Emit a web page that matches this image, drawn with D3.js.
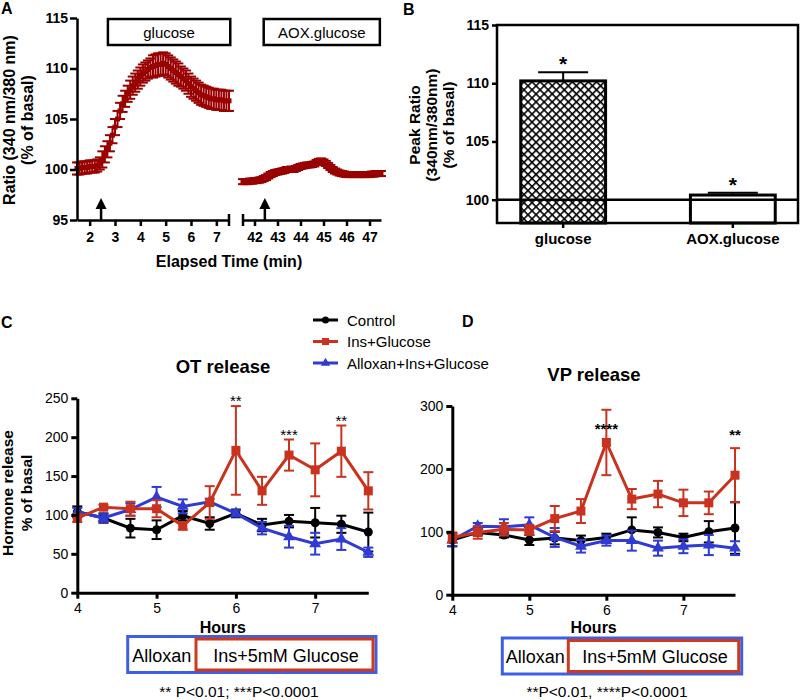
<!DOCTYPE html>
<html>
<head>
<meta charset="utf-8">
<script src="https://cdn.jsdelivr.net/npm/d3@7"></script>
<style>
  body { margin: 0; background: #fff; }
  text { font-family: "Liberation Sans", Arial, Helvetica, sans-serif; }
</style>
</head>
<body>
<div id="chart"></div>
<script>
// ---- data ----

// A: calcium ratio traces, sampled every 0.1 min
var timesA1 = d3.range(61).map(function (i) { return 1.5 + i / 10; });
var ratioA1 = [100.1, 100.1, 100.2, 100.2, 100.2, 100.3, 100.3, 100.3, 100.4, 100.6,
  101.0, 101.5, 102.0, 102.6, 103.4, 104.2, 105.0, 105.8, 106.5, 107.0,
  107.5, 107.9, 108.3, 108.6, 108.9, 109.2, 109.5, 109.7, 109.9, 110.1,
  110.2, 110.3, 110.4, 110.4, 110.5, 110.4, 110.2, 110.0, 109.8, 109.6,
  109.4, 109.2, 109.0, 108.8, 108.5, 108.2, 108.0, 107.8, 107.6, 107.4,
  107.3, 107.2, 107.1, 107.0, 107.0, 106.9, 106.9, 106.9, 106.8, 106.8, 106.8];
var semA1 = [0.6, 0.6, 0.6, 0.6, 0.6, 0.6, 0.6, 0.6, 0.6, 0.6,
  0.8, 0.8, 0.8, 0.8, 0.8, 0.8, 0.8, 0.8, 0.8, 0.8,
  0.8, 0.9, 0.9, 0.9, 0.9, 0.9, 0.9, 0.9, 0.9, 0.9,
  1.1, 1.1, 1.1, 1.1, 1.1, 1.1, 1.1, 1.1, 1.1, 1.1,
  1.1, 1.0, 1.0, 1.0, 1.0, 1.0, 1.0, 1.0, 1.0, 1.0,
  1.0, 1.0, 1.0, 1.0, 1.0, 1.0, 1.0, 1.0, 1.0, 1.0, 1.0];
var timesA2 = d3.range(61).map(function (i) { return 41.5 + i / 10; });
var ratioA2 = [98.8, 98.8, 98.8, 98.85, 98.85, 98.9, 98.9, 98.95, 99.0, 99.1,
  99.2, 99.35, 99.5, 99.6, 99.7, 99.75, 99.8, 99.85, 99.9, 100.0,
  100.0, 100.05, 100.0, 100.1, 100.2, 100.3, 100.35, 100.4, 100.45, 100.45,
  100.5, 100.55, 100.7, 100.8, 100.85, 100.75, 100.6, 100.4, 100.2, 100.0,
  99.85, 99.75, 99.65, 99.6, 99.55, 99.5, 99.5, 99.5, 99.5, 99.5,
  99.5, 99.5, 99.5, 99.5, 99.5, 99.5, 99.55, 99.55, 99.6, 99.6, 99.6];
var semA2 = 0.25;
var arrowA1 = 2.45, arrowA2 = 42.45;
var ticksA1 = [2, 3, 4, 5, 6, 7];
var ticksA2 = [42, 43, 44, 45, 46, 47];

// B: peak ratio
var peakGroups = ["glucose", "AOX.glucose"];
var peakMeans = [110.2, 100.4];
var peakSem = [0.75, 0.2];

// C / D: hormone release
var hours = [4, 4.33, 4.67, 5, 5.33, 5.67, 6, 6.33, 6.67, 7, 7.33, 7.67];
var seriesNames = ["Control", "Ins+Glucose", "Alloxan+Ins+Glucose"];
var seriesColors = ["#000000", "#c8321e", "#2f3bd3"];

var otControl = [104, 96, 83, 81, 99, 89, 102, 87, 92, 90, 88, 78];
var otControlErr = [7, 6, 12, 12, 6, 8, 5, 8, 8, 19, 11, 25];
var otIns = [96, 110, 108, 108, 86, 116, 183, 131, 177, 158, 182, 131];
var otInsErr = [5, 3, 9, 11, 5, 21, 57, 18, 20, 34, 33, 24];
var otAllox = [104, 96, 107, 123, 111, 117, 102, 83, 72, 63, 69, 52];
var otAlloxErr = [5, 5, 8, 13, 9, 4, 4, 8, 14, 14, 14, 6];

var vpControl = [87, 99, 95, 87, 90, 86, 91, 103, 99, 91, 100, 106];
var vpControlErr = [10, 5, 4, 8, 10, 8, 6, 20, 8, 6, 17, 41];
var vpIns = [91, 99, 104, 103, 121, 133, 242, 152, 160, 146, 146, 190];
var vpInsErr = [8, 10, 10, 8, 20, 19, 52, 16, 21, 21, 18, 43];
var vpAllox = [87, 109, 108, 111, 91, 77, 86, 86, 74, 77, 79, 74];
var vpAlloxErr = [10, 5, 12, 12, 15, 10, 8, 16, 12, 11, 16, 11];

var otStars = [{ t: 6, v: 240, s: "**" }, { t: 6.67, v: 197, s: "***" }, { t: 7.33, v: 215, s: "**" }];
var vpStars = [{ t: 6, v: 255, s: "****" }, { t: 7.67, v: 246, s: "**" }];

// ---- setup ----
var w = 800, h = 700;
var svg = d3.select("#chart").append("svg")
  .attr("width", w).attr("height", h)
  .attr("viewBox", "0 0 " + w + " " + h);

var defs = svg.append("defs");
var hatch = defs.append("pattern")
  .attr("id", "hatch")
  .attr("patternUnits", "userSpaceOnUse")
  .attr("width", 5.7).attr("height", 5.7)
  .attr("patternTransform", "rotate(45)");
hatch.append("rect").attr("width", 5.7).attr("height", 5.7).attr("fill", "#fff");
hatch.append("line").attr("x1", 0).attr("y1", 0).attr("x2", 5.7).attr("y2", 0)
  .attr("stroke", "#000").attr("stroke-width", 3.2);
hatch.append("line").attr("x1", 0).attr("y1", 0).attr("x2", 0).attr("y2", 5.7)
  .attr("stroke", "#000").attr("stroke-width", 3.2);

function styleAxis(g, size, bold, width) {
  g.attr("font-size", size)
    .attr("font-family", "'Liberation Sans', Arial, sans-serif")
    .attr("font-weight", bold ? "bold" : "normal");
  g.selectAll("path, line").attr("stroke", "#000").attr("stroke-width", width);
  g.selectAll("text").attr("fill", "#000");
}

function panelLabel(txt, x, y) {
  svg.append("text").attr("x", x).attr("y", y)
    .attr("font-size", 16).attr("font-weight", "bold").text(txt);
}

function rotLabel(lines, cy, size) {
  lines.forEach(function (l) {
    svg.append("text")
      .attr("transform", "translate(" + l.x + "," + cy + ") rotate(-90)")
      .attr("text-anchor", "middle")
      .attr("font-size", size).attr("font-weight", "bold")
      .text(l.t);
  });
}

// ---- panel A ----
var darkRed = "#990000";
var yA = d3.scaleLinear().domain([95, 115]).range([220, 18]);
var xA1 = d3.scaleLinear().domain([1.5, 7.5]).range([77, 229]);
var xA2 = d3.scaleLinear().domain([41.5, 47.5]).range([243, 381]);

var gA = svg.append("g");

function traceA(xs, times, vals, sem) {
  var g = gA.append("g").attr("stroke", darkRed).attr("stroke-width", 2);
  times.forEach(function (t, i) {
    var e = Array.isArray(sem) ? sem[i] : sem;
    var x = xs(t);
    g.append("line").attr("x1", x).attr("x2", x)
      .attr("y1", yA(vals[i] - e)).attr("y2", yA(vals[i] + e));
    g.append("line").attr("x1", x - 5).attr("x2", x + 5)
      .attr("y1", yA(vals[i] + e)).attr("y2", yA(vals[i] + e));
    g.append("line").attr("x1", x - 5).attr("x2", x + 5)
      .attr("y1", yA(vals[i] - e)).attr("y2", yA(vals[i] - e));
    g.append("rect").attr("x", x - 2.5).attr("y", yA(vals[i]) - 2.5)
      .attr("width", 5).attr("height", 5).attr("fill", darkRed).attr("stroke", "none");
  });
}
traceA(xA1, timesA1, ratioA1, semA1);
traceA(xA2, timesA2, ratioA2, semA2);

var axA1 = gA.append("g").attr("transform", "translate(0,220)")
  .call(d3.axisBottom(xA1).tickValues(ticksA1).tickFormat(d3.format("d"))
    .tickSize(6).tickSizeOuter(0).tickPadding(6));
styleAxis(axA1, 14, true, 2.5);
var axA2 = gA.append("g").attr("transform", "translate(0,220)")
  .call(d3.axisBottom(xA2).tickValues(ticksA2).tickFormat(d3.format("d"))
    .tickSize(6).tickSizeOuter(0).tickPadding(6));
styleAxis(axA2, 14, true, 2.5);
[xA1(7.5), xA2(41.5)].forEach(function (x) {
  gA.append("line").attr("x1", x).attr("x2", x).attr("y1", 214).attr("y2", 226)
    .attr("stroke", "#000").attr("stroke-width", 2.5);
});
var ayA = gA.append("g").attr("transform", "translate(77,0)")
  .call(d3.axisLeft(yA).tickValues([95, 100, 105, 110, 115]).tickSize(7).tickSizeOuter(0).tickPadding(2));
styleAxis(ayA, 14, true, 2.5);

// arrows
[xA1(arrowA1), xA2(arrowA2)].forEach(function (x) {
  gA.append("line").attr("x1", x).attr("x2", x).attr("y1", 207).attr("y2", 220)
    .attr("stroke", "#000").attr("stroke-width", 2.5);
  gA.append("path").attr("d", "M" + (x - 5.5) + ",209L" + x + ",198L" + (x + 5.5) + ",209Z")
    .attr("fill", "#000");
});

// stimulus boxes
[[xA1(2.72), xA1(7.55), "glucose"], [xA2(42.4), xA2(47.45), "AOX.glucose"]].forEach(function (b) {
  gA.append("rect").attr("x", b[0]).attr("y", 19).attr("width", b[1] - b[0]).attr("height", 26)
    .attr("fill", "#fff").attr("stroke", "#000").attr("stroke-width", 2.5);
  gA.append("text").attr("x", (b[0] + b[1]) / 2).attr("y", 37.5).attr("text-anchor", "middle")
    .attr("font-size", 15).text(b[2]);
});

gA.append("text").attr("x", 229).attr("y", 267).attr("text-anchor", "middle")
  .attr("font-size", 16).attr("font-weight", "bold").text("Elapsed Time (min)");
rotLabel([{ x: 14.5, t: "Ratio (340 nm/380 nm)" }, { x: 33, t: "(% of basal)" }], 120, 16);
panelLabel("A", 1, 14);

// ---- panel B ----
var yB = d3.scaleLinear().domain([98, 115]).range([223, 25]);
var xB = d3.scaleBand().domain(peakGroups).range([497, 799]).paddingInner(0.5).paddingOuter(0.14);

var gB = svg.append("g");
gB.selectAll("rect.bar").data(peakGroups).enter().append("rect")
  .attr("class", "bar")
  .attr("x", function (d) { return xB(d); })
  .attr("width", xB.bandwidth())
  .attr("y", function (d, i) { return yB(peakMeans[i]); })
  .attr("height", function (d, i) { return yB(98) - yB(peakMeans[i]); })
  .attr("fill", function (d, i) { return i === 0 ? "url(#hatch)" : "#fff"; })
  .attr("stroke", "#000").attr("stroke-width", 3);

peakGroups.forEach(function (d, i) {
  var cx = xB(d) + xB.bandwidth() / 2;
  var top = yB(peakMeans[i] + peakSem[i]);
  gB.append("line").attr("x1", cx).attr("x2", cx).attr("y1", yB(peakMeans[i])).attr("y2", top)
    .attr("stroke", "#000").attr("stroke-width", 2);
  gB.append("line").attr("x1", cx - 25).attr("x2", cx + 25).attr("y1", top).attr("y2", top)
    .attr("stroke", "#000").attr("stroke-width", 2);
  gB.append("text").attr("x", cx).attr("y", top - 1).attr("text-anchor", "middle")
    .attr("font-size", 21).attr("font-weight", "bold").text("*");
});

// baseline at 100 and frame
gB.append("line").attr("x1", 497).attr("x2", 799).attr("y1", yB(100)).attr("y2", yB(100))
  .attr("stroke", "#000").attr("stroke-width", 2.5);
gB.append("rect").attr("x", 497).attr("y", yB(115)).attr("width", 301).attr("height", yB(98) - yB(115))
  .attr("fill", "none").attr("stroke", "#000").attr("stroke-width", 2.5);

var ayB = gB.append("g").attr("transform", "translate(497,0)")
  .call(d3.axisLeft(yB).tickValues([100, 105, 110, 115]).tickSize(5).tickSizeOuter(0).tickPadding(3));
styleAxis(ayB, 14, true, 2.5);
ayB.select(".domain").remove();
var axB = gB.append("g").attr("transform", "translate(0,223)")
  .call(d3.axisBottom(xB).tickSize(5).tickSizeOuter(0).tickPadding(5));
styleAxis(axB, 15, true, 2.5);
axB.select(".domain").remove();

rotLabel([{ x: 420, t: "Peak Ratio" }, { x: 437, t: "(340nm/380nm)" }, { x: 454, t: "(% of basal)" }], 125, 15.5);
panelLabel("B", 403, 15);

// ---- panels C and D ----
function drawMarker(g, type, x, y, color, s) {
  if (type === 0) {
    g.append("circle").attr("cx", x).attr("cy", y).attr("r", s * 0.5).attr("fill", color);
  } else if (type === 1) {
    g.append("rect").attr("x", x - s / 2).attr("y", y - s / 2).attr("width", s).attr("height", s).attr("fill", color);
  } else {
    g.append("path").attr("d", d3.symbol(d3.symbolTriangle, s * s * 0.75)())
      .attr("transform", "translate(" + x + "," + y + ")").attr("fill", color);
  }
}

function drawRelease(cfg) {
  var x = d3.scaleLinear().domain([4, 7.67]).range(cfg.xr);
  var y = d3.scaleLinear().domain([0, cfg.ymax]).range(cfg.yr);
  var g = svg.append("g");

  var line = d3.line()
    .x(function (d, i) { return x(hours[i]); })
    .y(function (d) { return y(d); });

  cfg.series.forEach(function (s) {
    var col = seriesColors[s.c];
    var gs = g.append("g");
    s.v.forEach(function (v, i) {
      var cx = x(hours[i]);
      gs.append("line").attr("x1", cx).attr("x2", cx)
        .attr("y1", y(v - s.e[i])).attr("y2", y(v + s.e[i]))
        .attr("stroke", col).attr("stroke-width", 2);
      [v - s.e[i], v + s.e[i]].forEach(function (ev) {
        gs.append("line").attr("x1", cx - 5).attr("x2", cx + 5)
          .attr("y1", y(ev)).attr("y2", y(ev))
          .attr("stroke", col).attr("stroke-width", 2);
      });
    });
    gs.append("path").datum(s.v).attr("d", line)
      .attr("fill", "none").attr("stroke", col).attr("stroke-width", 3);
    s.v.forEach(function (v, i) {
      drawMarker(gs, s.c, x(hours[i]), y(v), col, 9);
    });
  });

  cfg.stars.forEach(function (st) {
    g.append("text").attr("x", x(st.t)).attr("y", y(st.v)).attr("text-anchor", "middle")
      .attr("font-size", 15).attr("font-weight", cfg.boldStars ? "bold" : "normal").text(st.s);
  });

  var ax = g.append("g").attr("transform", "translate(0," + cfg.yr[0] + ")")
    .call(d3.axisBottom(x).tickValues([4, 5, 6, 7]).tickFormat(d3.format("d")).tickSize(6).tickSizeOuter(0).tickPadding(4));
  styleAxis(ax, 14, false, 3);
  var ay = g.append("g").attr("transform", "translate(" + cfg.xr[0] + ",0)")
    .call(d3.axisLeft(y).tickValues(cfg.yticks).tickSize(6).tickSizeOuter(0).tickPadding(3));
  styleAxis(ay, 14, false, 3);

  var mid = (cfg.xr[0] + cfg.xr[1]) / 2;
  g.append("text").attr("x", mid).attr("y", 633).attr("text-anchor", "middle")
    .attr("font-size", 16).attr("font-weight", "bold").text("Hours");
  g.append("text").attr("x", cfg.titleX).attr("y", cfg.titleY).attr("text-anchor", "middle")
    .attr("font-size", 18.5).attr("font-weight", "bold").text(cfg.title);

  // treatment box
  var b = cfg.box;
  g.append("rect").attr("x", b[0]).attr("y", b[2]).attr("width", b[1] - b[0]).attr("height", 36)
    .attr("fill", "#fff").attr("stroke", "#3c5fe4").attr("stroke-width", 3);
  g.append("rect").attr("x", b[3]).attr("y", b[2] + 2.5).attr("width", b[1] - b[3] - 3).attr("height", 31)
    .attr("fill", "none").attr("stroke", "#cf3a1c").attr("stroke-width", 3);
  g.append("text").attr("x", (b[0] + b[3]) / 2).attr("y", b[2] + 25).attr("text-anchor", "middle")
    .attr("font-size", 18).text("Alloxan");
  g.append("text").attr("x", (b[3] + b[1]) / 2).attr("y", b[2] + 25).attr("text-anchor", "middle")
    .attr("font-size", 18).text("Ins+5mM Glucose");
  g.append("text").attr("x", cfg.noteX).attr("y", 697).attr("text-anchor", "middle")
    .attr("font-size", 15.5).text(cfg.note);
}

drawRelease({
  xr: [77.3, 368.3], yr: [592.7, 398.3], ymax: 250, yticks: [0, 50, 100, 150, 200, 250],
  series: [
    { c: 0, v: otControl, e: otControlErr },
    { c: 2, v: otAllox, e: otAlloxErr },
    { c: 1, v: otIns, e: otInsErr }
  ],
  stars: otStars, boldStars: false,
  title: "OT release", titleX: 223, titleY: 373,
  box: [127.7, 376, 636.5, 196],
  note: "** P<0.01; ***P<0.0001", noteX: 239
});

drawRelease({
  xr: [452.3, 735], yr: [594.7, 406], ymax: 300, yticks: [0, 100, 200, 300],
  series: [
    { c: 0, v: vpControl, e: vpControlErr },
    { c: 2, v: vpAllox, e: vpAlloxErr },
    { c: 1, v: vpIns, e: vpInsErr }
  ],
  stars: vpStars, boldStars: true,
  title: "VP release", titleX: 594, titleY: 381,
  box: [502.3, 741.7, 638, 568.3],
  note: "**P<0.01, ****P<0.0001", noteX: 607
});

rotLabel([{ x: 13, t: "Hormone release" }, { x: 32, t: "% of basal" }], 493, 15.5);

// legend
var legend = svg.append("g");
seriesNames.forEach(function (name, i) {
  var ly = 320 + i * 21.5;
  legend.append("line").attr("x1", 313).attr("x2", 338).attr("y1", ly).attr("y2", ly)
    .attr("stroke", seriesColors[i]).attr("stroke-width", 3);
  drawMarker(legend, i, 325.5, ly, seriesColors[i], 7);
  legend.append("text").attr("x", 347).attr("y", ly + 5.5).attr("font-size", 15).text(name);
});

panelLabel("C", 1, 328);
panelLabel("D", 462, 327);
</script>
</body>
</html>
